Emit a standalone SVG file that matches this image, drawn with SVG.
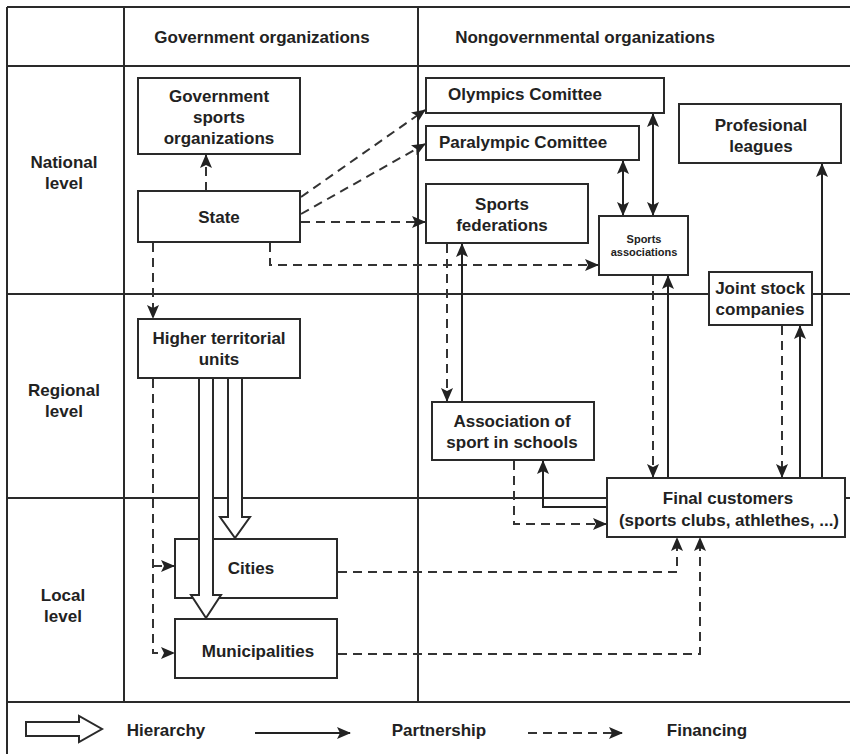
<svg xmlns="http://www.w3.org/2000/svg" width="850" height="754" viewBox="0 0 850 754">
<defs>
<style>
.grid{stroke:#2a2a2a;stroke-width:2;fill:none}
.box{fill:#fff;stroke:#2a2a2a;stroke-width:2}
.t{font-family:"Liberation Sans",Arial,sans-serif;font-weight:bold;font-size:17px;fill:#222;text-anchor:middle}
.sm{font-size:11px}
.solid{stroke:#222;stroke-width:2;fill:none}
.dash{stroke:#333;stroke-width:2;fill:none;stroke-dasharray:9,6}
.blk{fill:#fff;stroke:#2a2a2a;stroke-width:2;stroke-linejoin:miter}
</style>
<marker id="ah" markerUnits="userSpaceOnUse" markerWidth="14" markerHeight="12" viewBox="0 0 14 12" refX="13" refY="6" orient="auto-start-reverse">
<path d="M0,0 L14,6 L0,12 L3,6 z" fill="#222"/>
</marker>
</defs>
<rect width="850" height="754" fill="#fff"/>
<g id="grid">
<path class="grid" d="M7,7 H850 M7,66 H850 M7,294 H850 M7,498 H850 M7,702 H850 M7,7 V754 M124,7 V702 M418,7 V702"/>
</g>
<g id="headers">
<text class="t" x="262" y="43">Government organizations</text>
<text class="t" x="585" y="43">Nongovernmental organizations</text>
<text class="t" x="64" y="168">National</text>
<text class="t" x="64" y="189">level</text>
<text class="t" x="64" y="396">Regional</text>
<text class="t" x="64" y="417">level</text>
<text class="t" x="63" y="601">Local</text>
<text class="t" x="63" y="622">level</text>
</g>
<g id="connectors">
<path class="dash" d="M206,191 V155" marker-end="url(#ah)"/>
<path class="dash" d="M301,197 L425,110" marker-end="url(#ah)"/>
<path class="dash" d="M301,214 L425,144" marker-end="url(#ah)"/>
<path class="dash" d="M301,222 H425" marker-end="url(#ah)"/>
<path class="dash" d="M270,243 V265 H598" marker-end="url(#ah)"/>
<path class="dash" d="M153,243 V318" marker-end="url(#ah)"/>
<path class="dash" d="M153,379 V653 H174" marker-end="url(#ah)"/>
<path class="dash" d="M153,566 H174" marker-end="url(#ah)"/>
<path class="dash" d="M338,572 H677 V538" marker-end="url(#ah)"/>
<path class="dash" d="M338,654 H700 V538" marker-end="url(#ah)"/>
<path class="dash" d="M447,244 V401" marker-end="url(#ah)"/>
<path class="solid" d="M462,401 V244" marker-end="url(#ah)"/>
<path class="dash" d="M514,461 V524 H606" marker-end="url(#ah)"/>
<path class="solid" d="M606,507 H543 V461" marker-end="url(#ah)"/>
<path class="dash" d="M653,276 V477" marker-end="url(#ah)"/>
<path class="solid" d="M668,477 V276" marker-end="url(#ah)"/>
<path class="solid" d="M623,161 V215" marker-start="url(#ah)" marker-end="url(#ah)"/>
<path class="solid" d="M653,114 V215" marker-start="url(#ah)" marker-end="url(#ah)"/>
<path class="dash" d="M782,326 V477" marker-end="url(#ah)"/>
<path class="solid" d="M800,477 V326" marker-end="url(#ah)"/>
<path class="solid" d="M822,477 V164" marker-end="url(#ah)"/>
</g>
<g id="gov-sports">
<rect class="box" x="138" y="78" width="162" height="76"/>
<text class="t" x="219" y="102">Government</text>
<text class="t" x="219" y="123">sports</text>
<text class="t" x="219" y="144">organizations</text>
</g>
<g id="state">
<rect class="box" x="138" y="191" width="162" height="51"/>
<text class="t" x="219" y="223">State</text>
</g>
<g id="higher-territorial">
<rect class="box" x="138" y="319" width="162" height="59"/>
<text class="t" x="219" y="344">Higher territorial</text>
<text class="t" x="219" y="365">units</text>
</g>
<g id="cities">
<rect class="box" x="175" y="539" width="162" height="59"/>
<text class="t" x="251" y="574">Cities</text>
</g>
<g id="municipalities">
<rect class="box" x="175" y="619" width="162" height="59"/>
<text class="t" x="258" y="657">Municipalities</text>
</g>
<g id="hierarchy-arrows">
<polygon class="blk" points="199,378 213,378 213,595 221,595 206,618 191,595 199,595"/>
<polygon class="blk" points="228,378 242,378 242,517 250,517 235,538 220,517 228,517"/>
</g>
<g id="olympics">
<rect class="box" x="426" y="78" width="238" height="35"/>
<text class="t" x="525" y="100">Olympics Comittee</text>
</g>
<g id="paralympic">
<rect class="box" x="426" y="126" width="213" height="34"/>
<text class="t" x="523" y="148">Paralympic Comittee</text>
</g>
<g id="sports-federations">
<rect class="box" x="426" y="184" width="162" height="59"/>
<text class="t" x="502" y="210">Sports</text>
<text class="t" x="502" y="231">federations</text>
</g>
<g id="sports-associations">
<rect class="box" x="599" y="216" width="89" height="59"/>
<text class="t sm" x="644" y="243">Sports</text>
<text class="t sm" x="644" y="256">associations</text>
</g>
<g id="profesional-leagues">
<rect class="box" x="679" y="104" width="162" height="59"/>
<text class="t" x="761" y="131">Profesional</text>
<text class="t" x="761" y="152">leagues</text>
</g>
<g id="joint-stock">
<rect class="box" x="709" y="272" width="103" height="53"/>
<text class="t" x="760" y="294">Joint stock</text>
<text class="t" x="760" y="315">companies</text>
</g>
<g id="school-association">
<rect class="box" x="432" y="402" width="162" height="58"/>
<text class="t" x="512" y="427">Association of</text>
<text class="t" x="512" y="448">sport in schools</text>
</g>
<g id="final-customers">
<rect class="box" x="607" y="478" width="238" height="59"/>
<text class="t" x="728" y="504">Final customers</text>
<text class="t" x="729" y="526">(sports clubs, athlethes, ...)</text>
</g>
<g id="legend">
<polygon class="blk" points="26,722 79,722 79,716 102,729 79,742 79,736 26,736"/>
<text class="t" x="166" y="736">Hierarchy</text>
<path class="solid" d="M255,733 H350" marker-end="url(#ah)"/>
<text class="t" x="439" y="736">Partnership</text>
<path class="dash" d="M528,733 H622" marker-end="url(#ah)"/>
<text class="t" x="707" y="736">Financing</text>
</g>
</svg>
